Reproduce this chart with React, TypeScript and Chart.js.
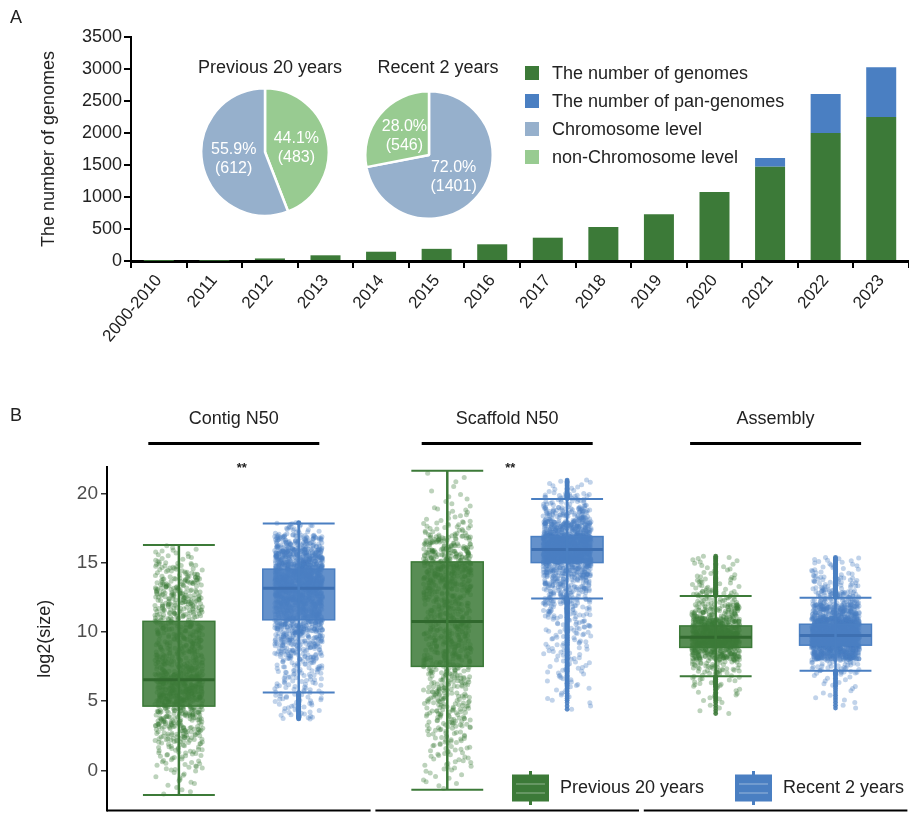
import React, { useEffect, useRef } from "react";
import { Chart, registerables } from "chart.js";
Chart.register(...registerables);

const FONT = '"Liberation Sans", Arial, Helvetica, sans-serif';
const GREEN = "rgb(60,122,56)";
const BLUE = "rgb(74,127,194)";
const PIE_BLUE = "rgb(150,176,204)";
const PIE_GREEN = "rgb(152,203,145)";

// ---------------- Panel A data ----------------
const yearLabels = ["2000-2010", "2011", "2012", "2013", "2014", "2015", "2016", "2017", "2018", "2019", "2020", "2021", "2022", "2023"];
const genomeCounts = [2, 4, 40, 89, 145, 190, 261, 364, 531, 730, 1078, 1473, 2000, 2250];
const panGenomeCounts = [0, 0, 0, 0, 0, 0, 0, 0, 0, 0, 0, 136, 609, 777];
const seriesNamesA = ["The number of genomes", "The number of pan-genomes"];
const yMaxA = 3500;
const yStepA = 500;

const pieTitles = ["Previous 20 years", "Recent 2 years"];
const previousPieLabels = ["non-Chromosome level", "Chromosome level"];
const previousPieValues = [483, 612];
const recentPieLabels = ["Chromosome level", "non-Chromosome level"];
const recentPieValues = [1401, 546];
const legendNamesA = ["The number of genomes", "The number of pan-genomes", "Chromosome level", "non-Chromosome level"];

// ---------------- Panel B data ----------------
const facetTitles = ["Contig N50", "Scaffold N50", "Assembly"];
const facetSignif = ["**", "**", ""];
const periodNames = ["Previous 20 years", "Recent 2 years"];
const yTicksB = [0, 5, 10, 15, 20];
// group order: contig prev, contig recent, scaffold prev, scaffold recent, assembly prev, assembly recent
const whiskerLow = [-1.78, 5.63, -1.39, 12.41, 6.79, 7.19];
const quartile1 = [4.64, 10.87, 7.51, 15.0, 8.88, 9.04];
const medians = [6.54, 13.14, 10.74, 15.95, 9.62, 9.74];
const quartile3 = [10.76, 14.53, 15.05, 16.88, 10.43, 10.55];
const whiskerHigh = [16.27, 17.83, 21.63, 19.59, 12.59, 12.47];
const pointMin = [-1.78, 3.7, -1.4, 4.3, 4.0, 4.4];
const pointMax = [16.3, 17.9, 21.6, 21.0, 15.5, 15.4];
// approximate number of genomes per one-unit log2 band, read from the jittered points
const binStart = [-2, 3, -2, 4, 4, 4];
const contigPrevBins = [5, 10, 20, 30, 55, 70, 85, 140, 130, 75, 60, 55, 55, 65, 70, 60, 35, 15, 2];
const contigRecentBins = [8, 20, 25, 30, 40, 70, 100, 150, 170, 250, 330, 300, 220, 110, 25];
const scaffoldPrevBins = [2, 8, 15, 20, 25, 35, 40, 45, 45, 50, 55, 55, 55, 50, 55, 75, 85, 90, 65, 25, 12, 6, 3, 2];
const scaffoldRecentBins = [3, 8, 12, 15, 18, 22, 28, 40, 70, 90, 150, 480, 450, 200, 90, 40, 12];
const assemblyPrevBins = [5, 10, 20, 50, 180, 380, 220, 90, 40, 20, 12, 6];
const assemblyRecentBins = [3, 6, 10, 40, 350, 700, 450, 200, 80, 40, 20, 8];
const binCounts = [contigPrevBins, contigRecentBins, scaffoldPrevBins, scaffoldRecentBins, assemblyPrevBins, assemblyRecentBins];

const FACET_STEP = 2.24;
const X_MIN_B = 0.4;
const X_MAX_B = 7.06;
const BOX_HALF = 0.3;
const JITTER_HALF = 0.2;

function groupCenter(g: number) {
  return Math.floor(g / 2) * FACET_STEP + 1 + (g % 2);
}
function frac(v: number) {
  return v - Math.floor(v);
}
// deterministic horizontal jitter offset in [0,1)
function jitterOffset(k: number) {
  return frac(Math.sin(k * 12.9898 + 78.233) * 43758.5453);
}
function buildPoints(g: number) {
  const pts: { x: number; y: number }[] = [];
  const c = groupCenter(g);
  let k = g * 5000;
  binCounts[g].forEach((n, b) => {
    const a = Math.max(binStart[g] + b, pointMin[g]);
    const z = Math.min(binStart[g] + b + 1, pointMax[g]);
    for (let j = 0; j < n; j++, k++) {
      const u = jitterOffset(k);
      pts.push({ x: c + (u - 0.5) * 2 * JITTER_HALF, y: a + ((j + 0.5) / n) * (z - a) });
    }
  });
  return pts;
}

const textStyle: React.CSSProperties = {
  position: "absolute",
  fontFamily: FONT,
  fontSize: 18,
  color: "#222",
  lineHeight: "22px",
  whiteSpace: "nowrap",
};

function PanelA() {
  const ref = useRef<HTMLCanvasElement>(null);
  useEffect(() => {
    const chart = new Chart(ref.current!, {
      type: "bar",
      data: {
        labels: yearLabels,
        datasets: [
          { label: seriesNamesA[0], data: genomeCounts, backgroundColor: GREEN, borderWidth: 0, barPercentage: 0.54, categoryPercentage: 1 },
          { label: seriesNamesA[1], data: panGenomeCounts, backgroundColor: BLUE, borderWidth: 0, barPercentage: 0.54, categoryPercentage: 1 },
        ],
      },
      options: {
        animation: false,
        responsive: false,
        events: [],
        layout: { padding: { top: 37, left: 0, right: 0, bottom: 0 } },
        plugins: { legend: { display: false }, tooltip: { enabled: false } },
        scales: {
          x: {
            stacked: true,
            offset: true,
            grid: { offset: true, drawOnChartArea: false, drawTicks: true, tickLength: 7, color: "#000", lineWidth: 2 },
            border: { display: true, color: "#000", width: 3 },
            ticks: { minRotation: 50, maxRotation: 50, autoSkip: false, font: { family: FONT, size: 17 }, color: "#222", padding: 3 },
            afterFit: (s: any) => {
              s.height = 119;
            },
          },
          y: {
            stacked: true,
            min: 0,
            max: yMaxA,
            ticks: { stepSize: yStepA, font: { family: FONT, size: 18 }, color: "#222", padding: 2, callback: (v: any) => String(v) },
            grid: { drawOnChartArea: false, drawTicks: true, tickLength: 7, color: "#000", lineWidth: 2 },
            border: { display: true, color: "#000", width: 2 },
            title: { display: true, text: "The number of genomes", font: { family: FONT, size: 18 }, color: "#222", padding: { top: 38, bottom: 0 } },
            afterFit: (s: any) => {
              s.width = 131;
            },
          },
        },
      },
    } as any);
    return () => chart.destroy();
  }, []);
  return <canvas ref={ref} width={909} height={380} style={{ position: "absolute", left: 0, top: 0, width: 909, height: 380 }} />;
}

const pieLabelPlugin = {
  id: "pieLabels",
  afterDatasetsDraw(chart: any) {
    const ctx = chart.ctx;
    const meta = chart.getDatasetMeta(0);
    const values: number[] = chart.data.datasets[0].data;
    const total = values.reduce((a, b) => a + b, 0);
    ctx.save();
    ctx.fillStyle = "#fff";
    ctx.font = `16px ${FONT}`;
    ctx.textAlign = "center";
    ctx.textBaseline = "middle";
    meta.data.forEach((arc: any, i: number) => {
      const p = arc.tooltipPosition(true);
      ctx.fillText(((values[i] / total) * 100).toFixed(1) + "%", p.x, p.y - 8);
      ctx.fillText("(" + values[i] + ")", p.x, p.y + 11);
    });
    ctx.restore();
  },
};

function Pie({ labels, values, left, top }: { labels: string[]; values: number[]; left: number; top: number }) {
  const ref = useRef<HTMLCanvasElement>(null);
  useEffect(() => {
    const colors = labels.map((l) => (l === "Chromosome level" ? PIE_BLUE : PIE_GREEN));
    const chart = new Chart(ref.current!, {
      type: "pie",
      data: { labels, datasets: [{ data: values, backgroundColor: colors, borderColor: "#fff", borderWidth: 2.5 }] },
      options: {
        animation: false,
        responsive: false,
        events: [],
        layout: { padding: 0 },
        plugins: { legend: { display: false }, tooltip: { enabled: false } },
      },
      plugins: [pieLabelPlugin],
    } as any);
    return () => chart.destroy();
  }, []);
  return <canvas ref={ref} width={130} height={130} style={{ position: "absolute", left, top, width: 130, height: 130 }} />;
}

function PanelB() {
  const ref = useRef<HTMLCanvasElement>(null);
  useEffect(() => {
    const jitter: { x: number; y: number }[][] = [[], []];
    const outliers: { x: number; y: number }[][] = [[], []];
    for (let g = 0; g < 6; g++) {
      const pts = buildPoints(g);
      const p = g % 2;
      const c = groupCenter(g);
      pts.forEach((q) => {
        jitter[p].push(q);
        if (q.y < whiskerLow[g] || q.y > whiskerHigh[g]) outliers[p].push({ x: c, y: q.y });
      });
    }
    const solid = [GREEN, BLUE];
    const boxFill = ["rgba(60,122,56,0.86)", "rgba(74,127,194,0.86)"];
    const medianCol = ["rgb(48,104,45)", "rgb(62,112,178)"];

    const boxPlugin = {
      id: "boxes",
      afterDatasetDraw(chart: any, args: any) {
        if (args.index !== 2) return;
        const { ctx } = chart;
        const xs = chart.scales.x;
        const ys = chart.scales.y;
        ctx.save();
        for (let g = 0; g < 6; g++) {
          const p = g % 2;
          const c = groupCenter(g);
          const xl = xs.getPixelForValue(c - BOX_HALF);
          const xr = xs.getPixelForValue(c + BOX_HALF);
          const xc = xs.getPixelForValue(c);
          const yq1 = ys.getPixelForValue(quartile1[g]);
          const yq3 = ys.getPixelForValue(quartile3[g]);
          ctx.fillStyle = boxFill[p];
          ctx.fillRect(xl, yq3, xr - xl, yq1 - yq3);
          ctx.strokeStyle = solid[p];
          ctx.lineWidth = 1.5;
          ctx.strokeRect(xl, yq3, xr - xl, yq1 - yq3);
          ctx.strokeStyle = medianCol[p];
          ctx.lineWidth = 3;
          const ym = ys.getPixelForValue(medians[g]);
          ctx.beginPath();
          ctx.moveTo(xl, ym);
          ctx.lineTo(xr, ym);
          ctx.stroke();
          const ylo = ys.getPixelForValue(whiskerLow[g]);
          const yhi = ys.getPixelForValue(whiskerHigh[g]);
          ctx.strokeStyle = solid[p];
          ctx.lineWidth = 2.5;
          ctx.beginPath();
          ctx.moveTo(xc, ylo);
          ctx.lineTo(xc, yhi);
          ctx.stroke();
          ctx.lineWidth = 2;
          ctx.beginPath();
          ctx.moveTo(xl, ylo);
          ctx.lineTo(xr, ylo);
          ctx.moveTo(xl, yhi);
          ctx.lineTo(xr, yhi);
          ctx.stroke();
        }
        ctx.restore();
      },
      afterDraw(chart: any) {
        const { ctx, chartArea } = chart;
        const xs = chart.scales.x;
        ctx.save();
        ctx.fillStyle = "#222";
        ctx.textAlign = "center";
        ctx.textBaseline = "middle";
        for (let f = 0; f < 3; f++) {
          const fc = xs.getPixelForValue(f * FACET_STEP + 1.5);
          const sc = f === 0 ? fc - 5 : fc;
          ctx.fillStyle = "#222";
          ctx.font = `18px ${FONT}`;
          ctx.fillText(facetTitles[f], sc, 39);
          ctx.strokeStyle = "#000";
          ctx.lineWidth = 3;
          ctx.beginPath();
          ctx.moveTo(sc - 85.5, 63.5);
          ctx.lineTo(sc + 85.5, 63.5);
          ctx.stroke();
          if (facetSignif[f]) {
            ctx.font = `bold 13px ${FONT}`;
            ctx.fillText(facetSignif[f], fc + 3, 88);
          }
          ctx.lineWidth = 2;
          ctx.beginPath();
          ctx.moveTo(xs.getPixelForValue(f * FACET_STEP + 0.4), chartArea.bottom);
          ctx.lineTo(Math.min(xs.getPixelForValue(f * FACET_STEP + 2.6), chart.width), chartArea.bottom);
          ctx.stroke();
        }
        // legend
        const legendX = [512, 735];
        const textX = [560, 783];
        const ly = 408;
        for (let p = 0; p < 2; p++) {
          const x0 = legendX[p];
          const w = 37;
          ctx.strokeStyle = solid[p];
          ctx.lineWidth = 3;
          ctx.beginPath();
          ctx.moveTo(x0 + w / 2, ly - 17);
          ctx.lineTo(x0 + w / 2, ly + 17);
          ctx.stroke();
          ctx.fillStyle = solid[p];
          ctx.fillRect(x0, ly - 13.5, w, 27);
          ctx.strokeStyle = "rgba(255,255,255,0.22)";
          ctx.lineWidth = 2;
          ctx.beginPath();
          ctx.moveTo(x0 + 4, ly - 4);
          ctx.lineTo(x0 + w - 4, ly - 4);
          ctx.moveTo(x0 + 4, ly + 5);
          ctx.lineTo(x0 + w - 4, ly + 5);
          ctx.stroke();
          ctx.fillStyle = "#222";
          ctx.font = `18px ${FONT}`;
          ctx.textAlign = "left";
          ctx.fillText(periodNames[p], textX[p], ly);
        }
        ctx.restore();
      },
    };

    const chart = new Chart(ref.current!, {
      type: "scatter",
      data: {
        datasets: [
          { label: periodNames[0] + " outliers", data: outliers[0], backgroundColor: "rgba(60,122,56,0.9)", pointBackgroundColor: "rgba(60,122,56,0.9)", pointRadius: 2.4, pointBorderWidth: 0, borderWidth: 0 },
          { label: periodNames[1] + " outliers", data: outliers[1], backgroundColor: "rgba(74,127,194,0.9)", pointBackgroundColor: "rgba(74,127,194,0.9)", pointRadius: 2.4, pointBorderWidth: 0, borderWidth: 0 },
          { label: periodNames[0], data: jitter[0], backgroundColor: "rgba(60,122,56,0.34)", pointBackgroundColor: "rgba(60,122,56,0.34)", pointRadius: 2.5, pointBorderWidth: 0, borderWidth: 0 },
          { label: periodNames[1], data: jitter[1], backgroundColor: "rgba(74,127,194,0.34)", pointBackgroundColor: "rgba(74,127,194,0.34)", pointRadius: 2.5, pointBorderWidth: 0, borderWidth: 0 },
        ],
      },
      options: {
        animation: false,
        responsive: false,
        events: [],
        parsing: false,
        layout: { padding: { top: 87, bottom: 3, left: 0, right: 0 } },
        plugins: { legend: { display: false }, tooltip: { enabled: false } },
        scales: {
          x: { type: "linear", min: X_MIN_B, max: X_MAX_B, display: false },
          y: {
            min: -2.9,
            max: 21.9,
            afterBuildTicks: (s: any) => {
              s.ticks = yTicksB.map((v) => ({ value: v }));
            },
            afterFit: (s: any) => {
              s.width = 107;
            },
            ticks: { font: { family: FONT, size: 19 }, color: "#4d4d4d", padding: 3 },
            grid: { drawOnChartArea: false, drawTicks: true, tickLength: 6, color: "#333", lineWidth: 1.5 },
            border: { display: true, color: "#000", width: 2 },
            title: { display: true, text: "log2(size)", font: { family: FONT, size: 18 }, color: "#222", padding: { top: 34, bottom: 0 } },
          },
        },
      },
      plugins: [boxPlugin],
    } as any);
    return () => chart.destroy();
  }, []);
  return <canvas ref={ref} width={909} height={445} style={{ position: "absolute", left: 0, top: 380, width: 909, height: 445 }} />;
}

export default function App() {
  const legendColors = [GREEN, BLUE, PIE_BLUE, PIE_GREEN];
  return (
    <div style={{ position: "absolute", left: 0, top: 0, width: 909, height: 825, background: "#fff", overflow: "hidden" }}>
      <PanelA />
      <Pie labels={previousPieLabels} values={previousPieValues} left={200} top={87} />
      <Pie labels={recentPieLabels} values={recentPieValues} left={364} top={90} />
      <div style={{ ...textStyle, left: 10, top: 6 }}>A</div>
      <div style={{ ...textStyle, left: 170, top: 56, width: 200, textAlign: "center" }}>{pieTitles[0]}</div>
      <div style={{ ...textStyle, left: 338, top: 56, width: 200, textAlign: "center" }}>{pieTitles[1]}</div>
      {legendNamesA.map((name, i) => (
        <div key={name} style={{ ...textStyle, left: 525, top: 62 + i * 28 }}>
          <span style={{ display: "inline-block", width: 14, height: 14, background: legendColors[i], verticalAlign: "-1px", marginRight: 13 }} />
          {name}
        </div>
      ))}
      <PanelB />
      <div style={{ ...textStyle, left: 10, top: 404 }}>B</div>
    </div>
  );
}
